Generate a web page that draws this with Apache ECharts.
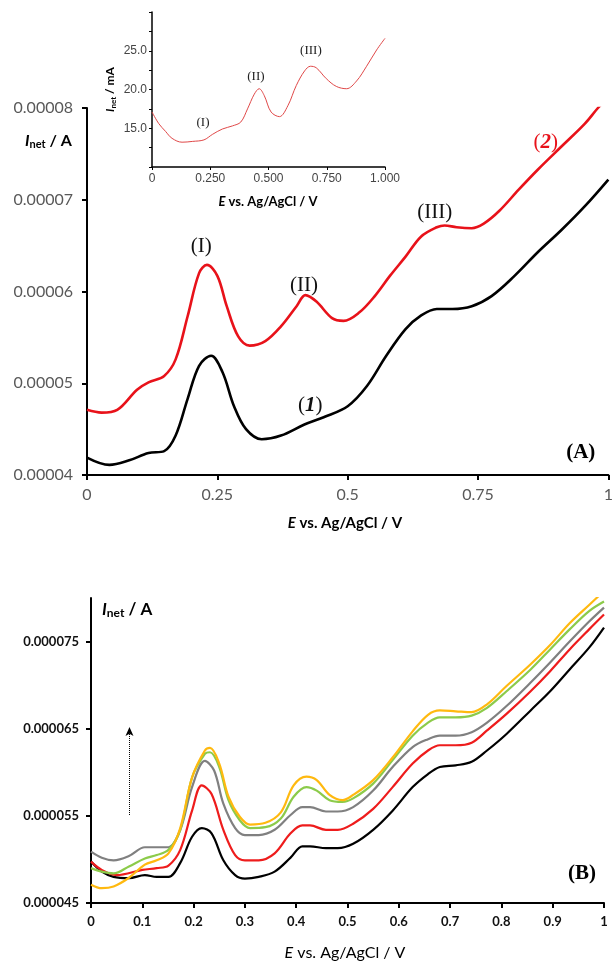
<!DOCTYPE html>
<html><head><meta charset="utf-8">
<script src="https://cdn.jsdelivr.net/npm/echarts@6/dist/echarts.min.js"></script>
<style>html,body{margin:0;padding:0;background:#fff}#c{width:616px;height:963px}</style>
</head><body><div id="c"></div>
<script>
// ---------- DATA (currents in units of 1e-5 A, inset in mA) ----------
// Panel A
const aTicksX = [0, 0.25, 0.5, 0.75, 1];
const aTicksY = [4, 5, 6, 7, 8];
const aRedX = [0,0.028,0.058,0.096,0.118,0.148,0.17,0.193,0.215,0.23,0.25,0.268,0.29,0.312,0.342,0.372,0.402,0.419,0.44,0.47,0.492,0.522,0.552,0.581,0.611,0.641,0.671,0.686,0.709,0.738,0.761,0.791,0.828,0.865,0.91,0.955,0.98,1.0];
const aRedY = [4.71,4.68,4.71,4.93,5.01,5.08,5.26,5.73,6.20,6.29,6.17,5.84,5.51,5.41,5.46,5.62,5.84,5.96,5.89,5.71,5.68,5.77,5.95,6.17,6.38,6.60,6.70,6.72,6.70,6.69,6.74,6.88,7.11,7.33,7.58,7.83,8.00,8.12];
const aBlackX = [0,0.043,0.081,0.118,0.148,0.17,0.193,0.215,0.238,0.26,0.282,0.305,0.335,0.372,0.417,0.454,0.5,0.537,0.574,0.611,0.641,0.671,0.701,0.738,0.776,0.82,0.865,0.91,0.955,1.0];
const aBlackY = [4.19,4.11,4.16,4.24,4.26,4.43,4.83,5.19,5.30,5.12,4.75,4.50,4.39,4.43,4.55,4.63,4.75,4.97,5.30,5.59,5.74,5.81,5.81,5.84,5.95,6.17,6.43,6.67,6.93,7.22];
const aNotes = ['(I)', '(II)', '(III)', '(2)', '(1)', '(A)'];
const aNotesX = [0.219, 0.416, 0.667, 0.88, 0.428, 0.947];
const aNotesY = [6.49, 6.07, 6.86, 7.62, 4.76, 4.24];

// Inset
const inTicksX = [0, 0.25, 0.5, 0.75, 1];
const inTicksY = [15, 20, 25];
const inX = [0,0.029,0.058,0.086,0.129,0.173,0.223,0.259,0.302,0.345,0.381,0.41,0.439,0.46,0.482,0.511,0.547,0.583,0.619,0.655,0.68,0.705,0.748,0.791,0.835,0.878,0.921,0.964,1.0];
const inY = [17.1,15.6,14.6,13.7,13.2,13.3,13.5,14.2,14.9,15.3,15.8,17.5,19.4,20.1,19.2,17.1,16.5,17.9,20.5,22.4,23.0,22.8,21.4,20.4,20.1,21.1,23.0,25.1,26.6];
const inNotes = ['(I)', '(II)', '(III)'];
const inNotesX = [0.219, 0.446, 0.682];
const inNotesY = [15.7, 21.7, 25.0];

// Panel B
const bTicksY = [4.5, 5.5, 6.5, 7.5];
const bBlackX = [0,0.021,0.044,0.074,0.105,0.128,0.151,0.174,0.197,0.216,0.235,0.258,0.281,0.3,0.327,0.358,0.389,0.412,0.427,0.458,0.481,0.511,0.55,0.588,0.627,0.657,0.68,0.711,0.742,0.772,0.81,0.857,0.895,0.933,0.971,1.0];
const bBlackY = [4.975,4.86,4.80,4.785,4.82,4.80,4.80,4.96,5.26,5.36,5.30,4.99,4.82,4.78,4.80,4.86,5.02,5.15,5.15,5.13,5.13,5.18,5.34,5.56,5.83,5.98,6.06,6.08,6.12,6.25,6.44,6.71,6.93,7.18,7.43,7.66];
const bRedX = [0,0.021,0.05,0.1,0.128,0.151,0.174,0.197,0.216,0.235,0.258,0.281,0.3,0.327,0.358,0.389,0.412,0.427,0.458,0.481,0.511,0.55,0.588,0.627,0.657,0.68,0.711,0.742,0.772,0.81,0.857,0.895,0.933,0.971,1.0];
const bRedY = [4.975,4.88,4.82,4.88,4.90,4.93,5.11,5.56,5.85,5.75,5.34,5.05,4.99,4.99,5.07,5.30,5.39,5.39,5.34,5.34,5.41,5.58,5.83,6.10,6.25,6.31,6.31,6.34,6.48,6.67,6.93,7.16,7.41,7.64,7.81];
const bGrayX = [0,0.021,0.044,0.074,0.105,0.128,0.151,0.174,0.197,0.222,0.24,0.258,0.281,0.3,0.327,0.358,0.389,0.412,0.427,0.458,0.481,0.511,0.55,0.588,0.627,0.657,0.68,0.711,0.742,0.772,0.81,0.857,0.895,0.933,0.971,1.0];
const bGrayY = [5.09,5.02,4.99,5.04,5.14,5.14,5.14,5.34,5.83,6.13,6.02,5.64,5.36,5.28,5.28,5.34,5.51,5.60,5.60,5.55,5.55,5.60,5.79,6.06,6.29,6.38,6.42,6.42,6.46,6.57,6.76,7.03,7.26,7.50,7.73,7.89];
const bGreenX = [0,0.021,0.044,0.074,0.105,0.128,0.151,0.174,0.197,0.222,0.232,0.25,0.268,0.29,0.31,0.34,0.37,0.395,0.42,0.44,0.465,0.49,0.511,0.55,0.588,0.627,0.657,0.68,0.711,0.742,0.772,0.81,0.857,0.895,0.933,0.971,1.0];
const bGreenY = [4.90,4.86,4.84,4.92,5.01,5.05,5.11,5.34,5.94,6.21,6.23,6.06,5.68,5.45,5.36,5.37,5.47,5.72,5.83,5.79,5.68,5.66,5.70,5.87,6.14,6.42,6.57,6.63,6.63,6.65,6.74,6.93,7.18,7.41,7.64,7.85,7.96];
const bYellowX = bGreenX;
const bYellowY = [4.71,4.67,4.69,4.79,4.94,4.99,5.07,5.36,5.94,6.25,6.28,6.10,5.72,5.49,5.40,5.42,5.54,5.85,5.95,5.91,5.74,5.68,5.74,5.91,6.17,6.47,6.66,6.71,6.70,6.69,6.78,6.99,7.24,7.46,7.71,7.92,8.08];
const bNotes = ['(B)'];
const bNotesX = [0.957];
const bNotesY = [4.84];
const bArrowX = 0.075;
const bArrowFrom = 5.51;
const bArrowTo = 6.52;

// ---------- CHART ----------
const zip = (xs, ys) => xs.map((x, i) => [x, ys[i]]);
const chart = echarts.init(document.getElementById('c'), null, {renderer: 'canvas'});
const serif = 'Liberation Serif';
const sans = 'Lato';

const noteStyle = {
  '(I)': {fontFamily: serif, fontSize: 21, color: '#111'},
  '(II)': {fontFamily: serif, fontSize: 21, color: '#111'},
  '(III)': {fontFamily: serif, fontSize: 21, color: '#111'},
  '(A)': {fontFamily: serif, fontSize: 21, fontWeight: 'bold', color: '#000'},
  '(B)': {fontFamily: serif, fontSize: 21, fontWeight: 'bold', color: '#000'}
};
function noteItem(t, x, y, small) {
  let label;
  if (t === '(2)' || t === '(1)') {
    const col = t === '(2)' ? '#E8121A' : '#111';
    const num = t.slice(1, 2);
    label = {formatter: '{p|(}{b|' + num + '}{p|)}',
      rich: {p: {fontFamily: serif, fontSize: 21, color: col},
             b: {fontFamily: serif, fontSize: 21, color: col, fontStyle: 'italic', fontWeight: 'bold'}}};
  } else if (small) {
    label = {formatter: t, fontFamily: serif, fontSize: 13, color: '#222'};
  } else {
    label = Object.assign({formatter: t}, noteStyle[t]);
  }
  label.show = true; label.position = 'inside';
  return {value: [x, y], label, itemStyle: {opacity: 1}};
}

const axisBase = (grid, extra) => Object.assign({
  gridIndex: grid, type: 'value', splitLine: {show: false},
}, extra);

const inet = (size, unit, weight) => ({
  type: 'text',
  style: {
    text: '{i|I}{s|net}{n| / ' + unit + '}',
    rich: {
      i: {fontFamily: sans, fontSize: size, fontStyle: 'italic', fontWeight: weight, color: '#111'},
      s: {fontFamily: sans, fontSize: Math.round(size * 0.68), fontWeight: weight, color: '#111', padding: [Math.round(size * 0.45), 0, 0, 0]},
      n: {fontFamily: sans, fontSize: size, fontWeight: weight, color: '#111'}
    }
  }
});
const evs = (size, weight) => ({
  type: 'text',
  style: {
    text: '{e|E}{n| vs. Ag/AgCl / V}',
    align: 'center', verticalAlign: 'middle',
    rich: {
      e: {fontFamily: sans, fontSize: size, fontStyle: 'italic', fontWeight: weight, color: '#222'},
      n: {fontFamily: sans, fontSize: size, fontWeight: weight, color: '#222'}
    }
  }
});

const lineS = (xi, data, color, width) => ({
  type: 'line', xAxisIndex: xi, yAxisIndex: xi, data, smooth: 0.35, showSymbol: false, silent: true,
  lineStyle: {color, width}
});

const option = {
  animation: false,
  backgroundColor: '#fff',
  grid: [
    {left: 87, top: 108, width: 526, height: 367},
    {left: 152, top: 12, width: 233, height: 155},
    {left: 91, top: 598, width: 513, height: 305}
  ],
  xAxis: [
    axisBase(0, {min: 0, max: 1,
      axisLine: {lineStyle: {color: '#000', width: 2}},
      axisTick: {length: 5, lineStyle: {color: '#000', width: 2}, customValues: aTicksX},
      axisLabel: {customValues: aTicksX, color: '#595959', fontFamily: sans, fontSize: 16, margin: 12, formatter: v => String(v)}}),
    axisBase(1, {min: 0, max: 1,
      axisLine: {lineStyle: {color: '#000', width: 1.5}},
      axisTick: {length: 3, lineStyle: {color: '#000', width: 1}, customValues: inTicksX},
      axisLabel: {customValues: inTicksX, color: '#444', fontFamily: 'Liberation Sans', fontSize: 12, margin: 6,
        formatter: v => v === 0 ? '0' : v.toFixed(3)}}),
    axisBase(2, {min: 0, max: 1, interval: 0.1,
      axisLine: {lineStyle: {color: '#000', width: 2}},
      axisTick: {length: 5, lineStyle: {color: '#000', width: 2}},
      axisLabel: {color: '#111', fontFamily: sans, fontWeight: 'bold', fontSize: 13, margin: 12,
        formatter: v => (v === 0 || v === 1) ? String(v) : v.toFixed(1)}})
  ],
  yAxis: [
    axisBase(0, {min: 4, max: 8,
      axisLine: {show: true, lineStyle: {color: '#000', width: 2}},
      axisTick: {show: true, length: 5, lineStyle: {color: '#000', width: 2}, customValues: aTicksY},
      axisLabel: {customValues: aTicksY, color: '#595959', fontFamily: sans, fontSize: 16, margin: 14,
        formatter: v => (v * 1e-5).toFixed(5)}}),
    axisBase(1, {min: 10, max: 30, interval: 2.5,
      axisLine: {show: true, lineStyle: {color: '#000', width: 1.5}},
      axisTick: {show: true, length: 3, lineStyle: {color: '#000', width: 1}},
      axisLabel: {customValues: inTicksY, color: '#444', fontFamily: 'Liberation Sans', fontSize: 12, margin: 5,
        formatter: v => v.toFixed(1)}}),
    axisBase(2, {min: 4.5, max: 8,
      axisLine: {show: true, lineStyle: {color: '#000', width: 2}},
      axisTick: {show: true, length: 5, lineStyle: {color: '#000', width: 2}, customValues: bTicksY},
      axisLabel: {customValues: bTicksY, color: '#111', fontFamily: sans, fontWeight: 'bold', fontSize: 13, margin: 12,
        formatter: v => (v * 1e-5).toFixed(6)}})
  ],
  series: [
    lineS(0, zip(aBlackX, aBlackY), '#000', 2.6),
    lineS(0, zip(aRedX, aRedY), '#E8121A', 2.6),
    lineS(1, zip(inX, inY), '#E04848', 1),
    lineS(2, zip(bBlackX, bBlackY), '#000', 2.2),
    lineS(2, zip(bRedX, bRedY), '#EE1C1C', 2.2),
    lineS(2, zip(bGrayX, bGrayY), '#808080', 2.2),
    lineS(2, zip(bGreenX, bGreenY), '#8CCB4A', 2.2),
    lineS(2, zip(bYellowX, bYellowY), '#FFB90F', 2.2),
    {type: 'scatter', xAxisIndex: 0, yAxisIndex: 0, symbolSize: 0, silent: true, itemStyle: {opacity: 1},
      data: aNotes.map((t, i) => noteItem(t, aNotesX[i], aNotesY[i], false))},
    {type: 'scatter', xAxisIndex: 1, yAxisIndex: 1, symbolSize: 0, silent: true, itemStyle: {opacity: 1},
      data: inNotes.map((t, i) => noteItem(t, inNotesX[i], inNotesY[i], true))},
    {type: 'scatter', xAxisIndex: 2, yAxisIndex: 2, symbolSize: 0, silent: true, itemStyle: {opacity: 1},
      data: bNotes.map((t, i) => noteItem(t, bNotesX[i], bNotesY[i], false)),
      markLine: {silent: true, symbol: ['none', 'arrow'], symbolSize: [6, 9],
        lineStyle: {type: 'dotted', color: '#000', width: 1, opacity: 1}, label: {show: false},
        data: [[{coord: [bArrowX, bArrowFrom]}, {coord: [bArrowX, bArrowTo]}]]}}
  ],
  graphic: [
    Object.assign(inet(16, 'A', 'bold'), {left: 25, top: 133}),
    Object.assign(inet(17, 'A', 'bold'), {left: 102, top: 601}),
    Object.assign(inet(12, 'mA', 'bold'), {x: 104, y: 112, rotation: Math.PI / 2}),
    Object.assign(evs(15, 'bold'), {x: 345, y: 523}),
    Object.assign(evs(13, 'bold'), {x: 268, y: 202}),
    Object.assign(evs(16, 'normal'), {x: 345, y: 953})
  ]
};
chart.setOption(option);
</script>
</body></html>
